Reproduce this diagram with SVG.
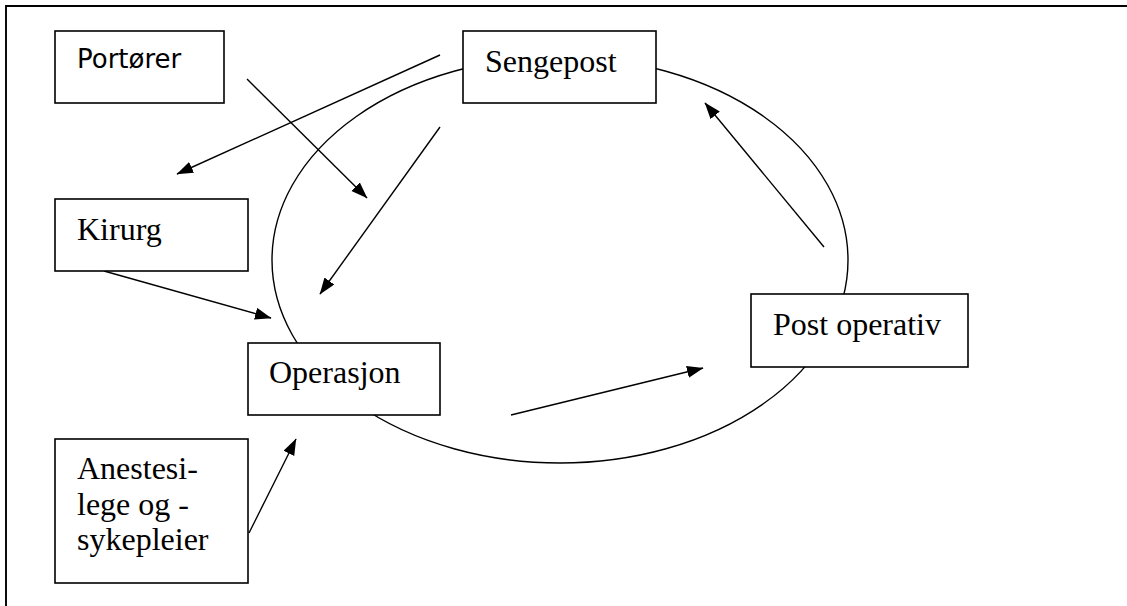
<svg xmlns="http://www.w3.org/2000/svg" width="1127" height="606" viewBox="0 0 1127 606">
  <style>
    .box { fill: #ffffff; stroke: #000000; stroke-width: 1.6; }
    .serif { font-family: "Liberation Serif", "Times New Roman", serif; font-size: 32px; fill: #000000; }
    .sans { font-family: "DejaVu Sans", Verdana, sans-serif; font-size: 26px; fill: #000000; }
    .conn { fill: none; stroke: #000000; stroke-width: 1.4; }
    .arrow { marker-end: url(#ah); }
  </style>
  <defs>
    <marker id="ah" markerUnits="userSpaceOnUse" markerWidth="18" markerHeight="13" refX="16" refY="6" orient="auto">
      <path d="M0,0 L16.5,6 L0,12 z" fill="#000000"/>
    </marker>
  </defs>
  <rect x="0" y="0" width="1127" height="606" fill="#ffffff"/>
  <path d="M6,606 L6,6 L1127,6" fill="none" stroke="#000000" stroke-width="1.9"/>

  <g id="connectors">
    <ellipse class="conn" cx="560" cy="260" rx="288" ry="203"/>
    <line class="conn arrow" x1="440" y1="55" x2="177" y2="174"/>
    <line class="conn arrow" x1="247" y1="79" x2="367" y2="198"/>
    <line class="conn arrow" x1="440" y1="127" x2="320" y2="294"/>
    <line class="conn arrow" x1="104" y1="271" x2="271" y2="318"/>
    <line class="conn arrow" x1="249" y1="533" x2="296" y2="439"/>
    <line class="conn arrow" x1="511" y1="415" x2="703" y2="368"/>
    <line class="conn arrow" x1="824" y1="247" x2="705" y2="103"/>
  </g>

  <g id="portorer">
    <rect class="box" x="55" y="31" width="169" height="72"/>
    <text class="sans" x="77" y="68">Portører</text>
  </g>
  <g id="sengepost">
    <rect class="box" x="463" y="31" width="193" height="72"/>
    <text class="serif" x="485" y="72">Sengepost</text>
  </g>
  <g id="kirurg">
    <rect class="box" x="55" y="199" width="193" height="72"/>
    <text class="serif" x="77" y="240">Kirurg</text>
  </g>
  <g id="operasjon">
    <rect class="box" x="248" y="343" width="192" height="72"/>
    <text class="serif" x="269" y="383">Operasjon</text>
  </g>
  <g id="postoperativ">
    <rect class="box" x="751" y="294" width="217" height="73"/>
    <text class="serif" x="773" y="335">Post operativ</text>
  </g>
  <g id="anestesi">
    <rect class="box" x="55" y="439" width="193" height="144"/>
    <text class="serif" x="77" y="479">Anestesi-</text>
    <text class="serif" x="77" y="515">lege og -</text>
    <text class="serif" x="77" y="550">sykepleier</text>
  </g>
</svg>
